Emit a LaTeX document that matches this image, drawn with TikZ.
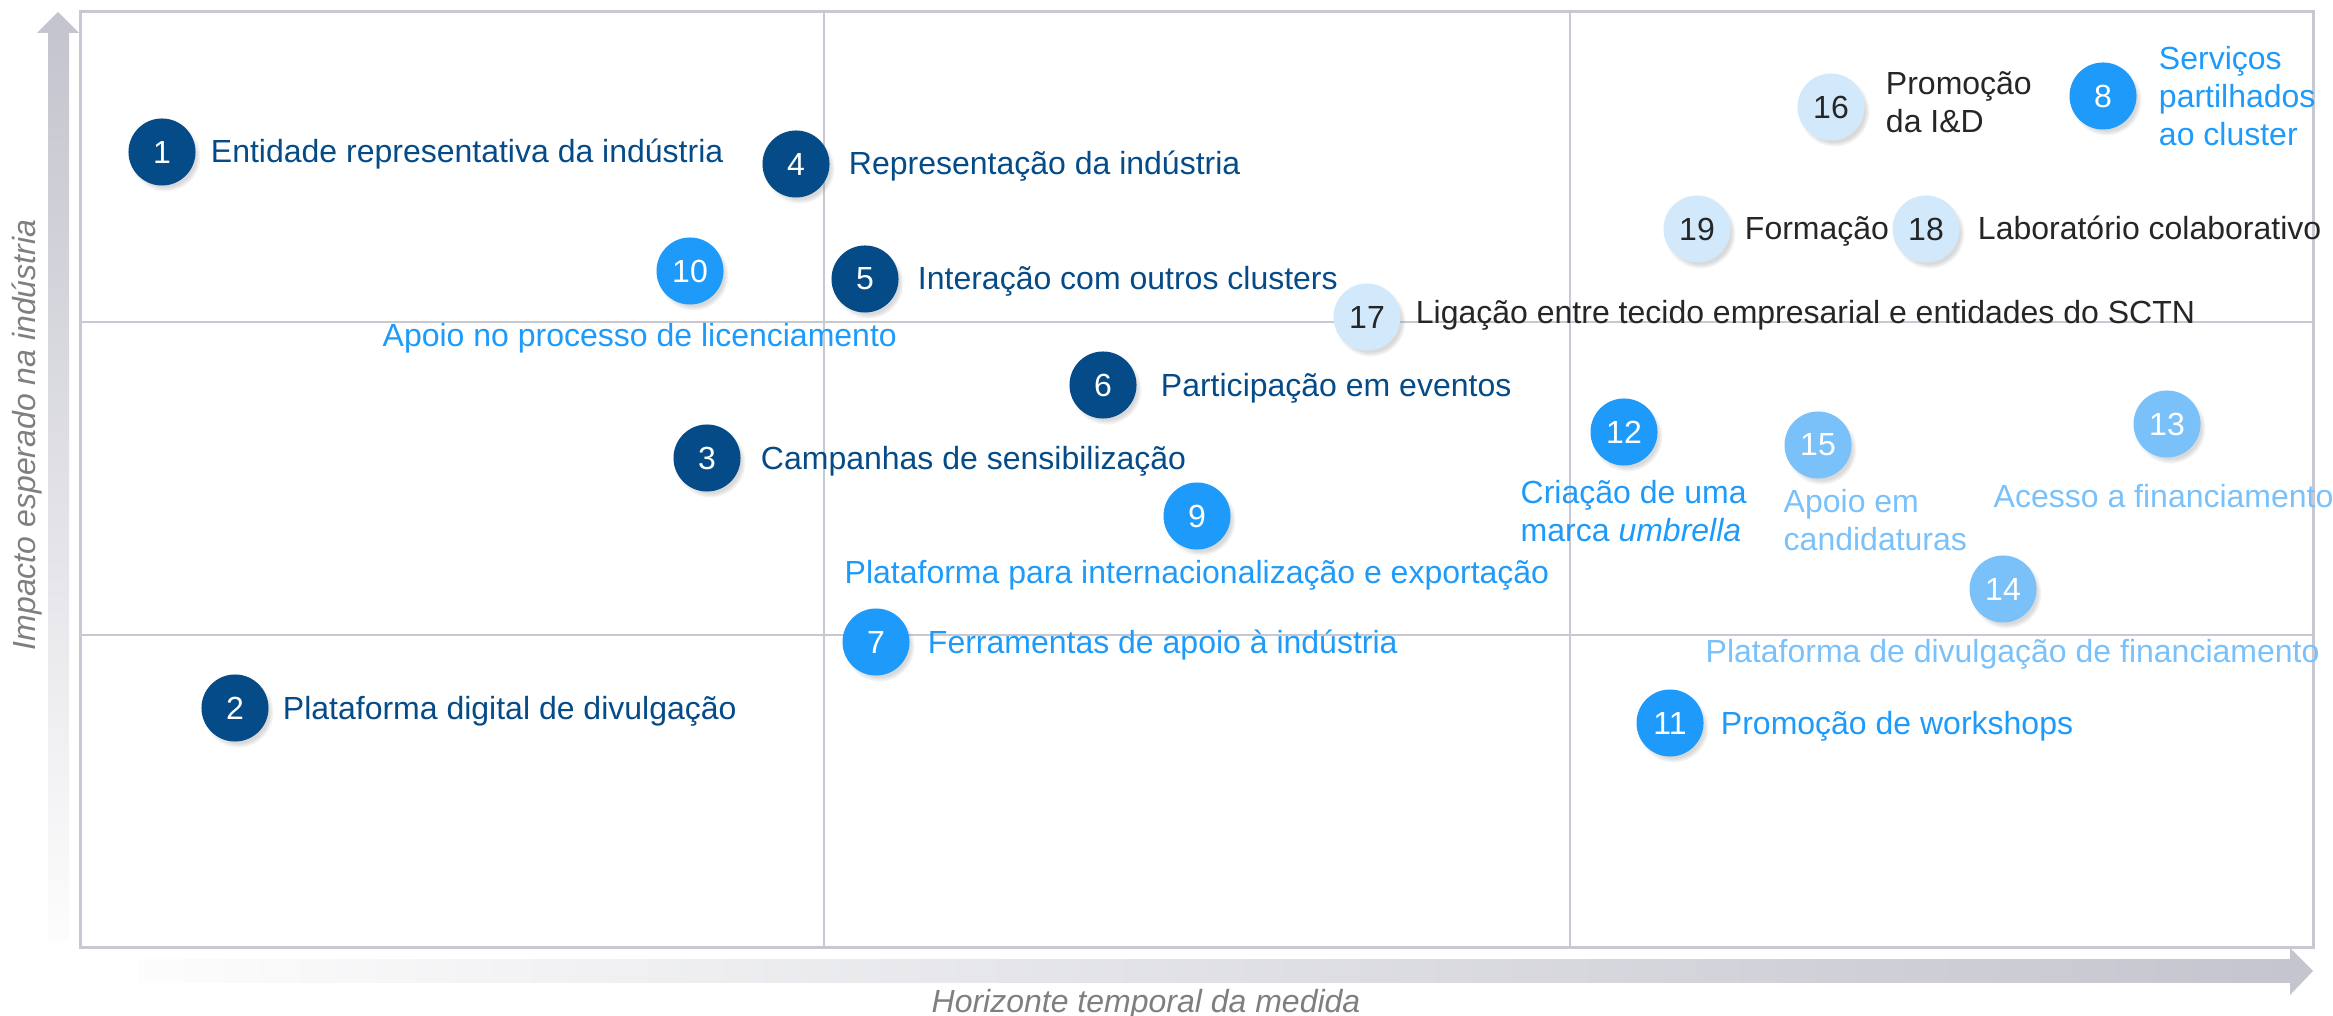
\documentclass[tikz,border=0pt]{standalone}
\usepackage{fontspec}
\setmainfont{Liberation Sans}
\usepackage{tikz}
\usetikzlibrary{positioning,shadows}
\usepackage{xcolor}
\definecolor{deepblue}{HTML}{054B87}
\definecolor{brightblue}{HTML}{1E9BFA}
\definecolor{softblue}{HTML}{7AC1FA}
\definecolor{paleblue}{HTML}{D2E9FB}
\definecolor{inkgray}{HTML}{262626}
\definecolor{gridgray}{HTML}{C8C8D2}
\definecolor{axisgray}{HTML}{C4C5CE}
\definecolor{labelgray}{HTML}{7F7F7F}
\newcommand{\bubblefont}{\fontsize{9.1}{10.8}\selectfont}

\begin{document}
\begin{tikzpicture}[x=0.01cm,y=-0.01cm,node distance=1.6mm,
      dot/.style={circle,minimum size=6.7mm,inner sep=0,font=\bubblefont,
        circular drop shadow={shadow xshift=0.3mm,shadow yshift=-0.4mm,shadow scale=1.06,opacity=0.3}},
      navydot/.style={dot,fill=deepblue,text=white},
      bluedot/.style={dot,fill=brightblue,text=white},
      softdot/.style={dot,fill=softblue,text=white},
      paledot/.style={dot,fill=paleblue,text=inkgray},
      lbl/.style={inner sep=0,font=\bubblefont,align=left},
      side/.style={lbl,text height=2.8mm,text depth=0.6mm},
      axislbl/.style={inner sep=0,font=\bubblefont\itshape,text=labelgray},
      frame/.style={draw=gridgray,line width=0.3mm},
      grid/.style={draw=gridgray,line width=0.25mm}]
    \useasboundingbox (0,0) rectangle (2333,1016);
    \shade[top color=axisgray,bottom color=white!96!axisgray] (48,33) rectangle (69,941);
    \fill[axisgray] (37,33) -- (58,12) -- (79,33) -- cycle;
    \shade[left color=white!96!axisgray,right color=axisgray] (138,959) rectangle (2290,982);
    \fill[axisgray] (2290,948) -- (2313,971) -- (2290,995) -- cycle;
    \draw[grid] (824,12) -- (824,947);
    \draw[grid] (1570,12) -- (1570,947);
    \draw[grid] (80,322) -- (2313,322);
    \draw[grid] (80,635) -- (2313,635);
    \draw[frame] (80,12) rectangle (2313,947);
    \node[axislbl,rotate=90,anchor=base] (ylab) at (35,435) {Impacto esperado na indústria};
    \node[axislbl,anchor=base] (xlab) at (1146,1012) {Horizonte temporal da medida};
    \node[navydot] (c1) at (162,152) {1};
    \node[side,text=deepblue,right=1.4mm of c1] (t1) {Entidade representativa da indústria};
    \node[navydot] (c2) at (235,708) {2};
    \node[side,text=deepblue,right=1.3mm of c2] (t2) {Plataforma digital de divulgação};
    \node[navydot] (c3) at (707,458) {3};
    \node[side,text=deepblue,right=1.9mm of c3] (t3) {Campanhas de sensibilização};
    \node[navydot] (c4) at (796,164) {4};
    \node[side,text=deepblue,right=1.8mm of c4] (t4) {Representação da indústria};
    \node[navydot] (c5) at (865,279) {5};
    \node[side,text=deepblue,right=1.8mm of c5] (t5) {Interação com outros clusters};
    \node[navydot] (c6) at (1103,385) {6};
    \node[side,text=deepblue,right=2.3mm of c6] (t6) {Participação em eventos};
    \node[bluedot] (c7) at (876,642) {7};
    \node[side,text=brightblue,right=1.7mm of c7] (t7) {Ferramentas de apoio à indústria};
    \node[bluedot] (c8) at (2103,96) {8};
    \node[lbl,text=brightblue,right=2.1mm of c8] (t8) {Serviços\\partilhados\\ao cluster};
    \node[bluedot] (c9) at (1197,516) {9};
    \node[lbl,text=brightblue,anchor=base west] (t9) at (844,584) {Plataforma para internacionalização e exportação};
    \node[bluedot] (c10) at (690,271) {10};
    \node[lbl,text=brightblue,anchor=base west] (t10) at (382,347) {Apoio no processo de licenciamento};
    \node[bluedot] (c11) at (1670,723) {11};
    \node[side,text=brightblue,right=1.6mm of c11] (t11) {Promoção de workshops};
    \node[bluedot] (c12) at (1624,432) {12};
    \node[lbl,text=brightblue,anchor=west] (t12) at (1520,511) {Criação de uma\\marca \textit{umbrella}};
    \node[softdot] (c13) at (2167,424) {13};
    \node[lbl,text=softblue,anchor=base west] (t13) at (1993,508) {Acesso a financiamento};
    \node[softdot] (c14) at (2003,589) {14};
    \node[lbl,text=softblue,anchor=base west] (t14) at (1705,663) {Plataforma de divulgação de financiamento};
    \node[softdot] (c15) at (1818,445) {15};
    \node[lbl,text=softblue,anchor=west] (t15) at (1783,520) {Apoio em\\candidaturas};
    \node[paledot] (c16) at (1831,107) {16};
    \node[lbl,text=inkgray,right=2mm of c16,yshift=0.45mm] (t16) {Promoção\\da I\&D};
    \node[paledot] (c17) at (1367,317) {17};
    \node[side,text=inkgray,right=1.4mm of c17,yshift=0.4mm] (t17) {Ligação entre tecido empresarial e entidades do SCTN};
    \node[paledot] (c18) at (1926,229) {18};
    \node[side,text=inkgray,right=1.7mm of c18] (t18) {Laboratório colaborativo};
    \node[paledot] (c19) at (1697,229) {19};
    \node[side,text=inkgray,right=1.3mm of c19] (t19) {Formação};
  \end{tikzpicture}
\end{document}
